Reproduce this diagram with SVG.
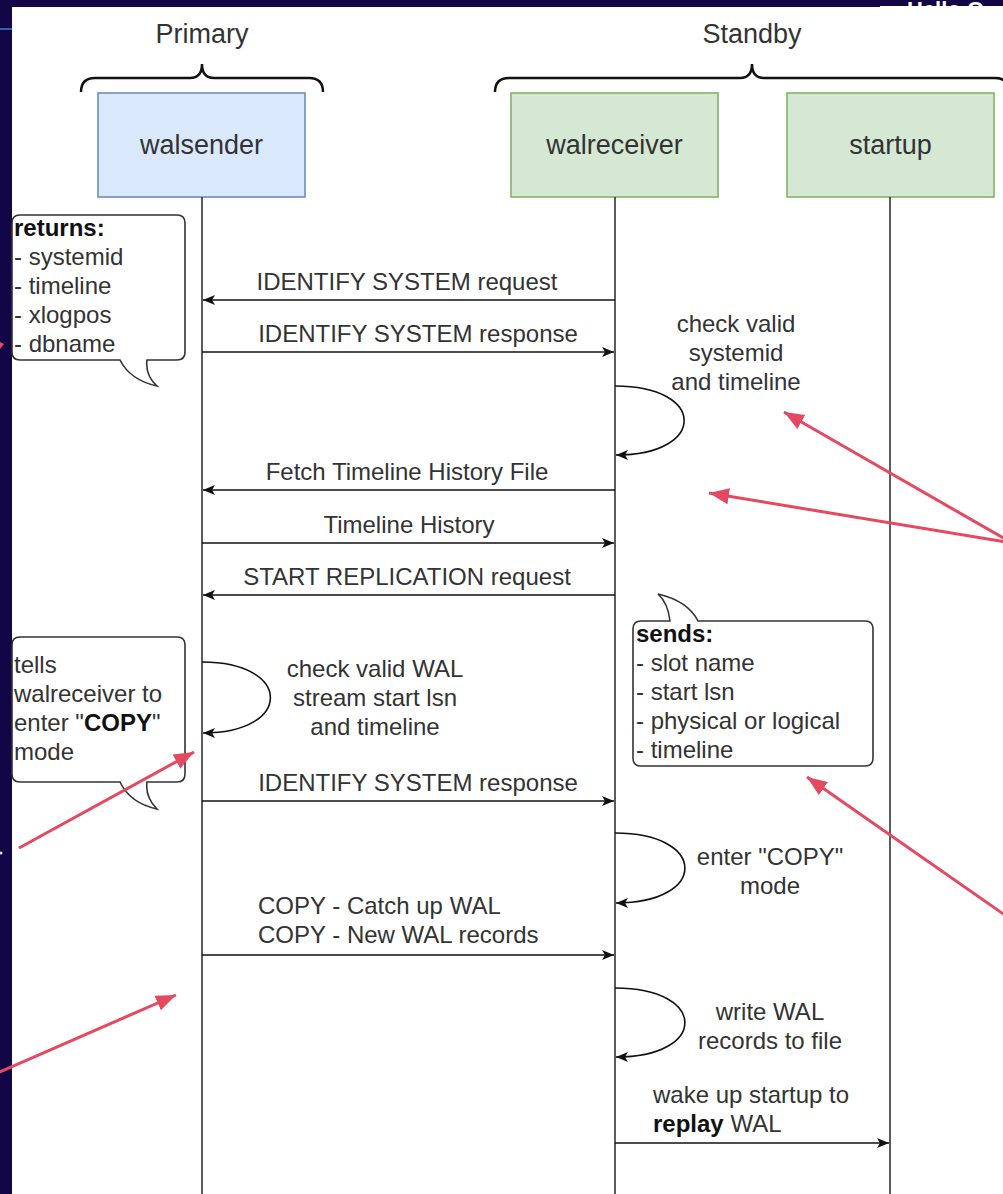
<svg xmlns="http://www.w3.org/2000/svg" width="1003" height="1194" viewBox="0 0 1003 1194">
<defs>
<style>
.t{font-family:"Liberation Sans",Arial,sans-serif;font-size:24px;fill:#333}
.h{font-family:"Liberation Sans",Arial,sans-serif;font-size:27px;fill:#333;text-anchor:middle}
.c{text-anchor:middle}
.b{font-weight:bold;fill:#111}
.life{stroke:#333;stroke-width:1.6;fill:none}
.msg{stroke:#111;stroke-width:1.6;fill:none;marker-end:url(#ah)}
.call{fill:#fff;stroke:#333;stroke-width:1.6}
.red{stroke:#e5485f;stroke-width:3;fill:none;marker-end:url(#rh)}
.brace{stroke:#111;stroke-width:2.5;fill:none}
</style>
<marker id="ah" markerUnits="userSpaceOnUse" markerWidth="14" markerHeight="12" refX="12" refY="6" orient="auto">
<path d="M0,1 L12,6 L0,11 L3,6 Z" fill="#111"/>
</marker>
<marker id="rh" markerUnits="userSpaceOnUse" markerWidth="22" markerHeight="18" refX="20" refY="9" orient="auto">
<path d="M0,1 L20,9 L0,17 Z" fill="#e5485f"/>
</marker>
</defs>
<rect x="0" y="0" width="1003" height="1194" fill="#120646"/>
<line x1="0" y1="29" x2="12" y2="29" stroke="#3a5fa8" stroke-width="2"/>
<rect x="12" y="7" width="991" height="1187" fill="#fff"/>
<text x="907" y="17" font-family="Liberation Sans,Arial,sans-serif" font-size="22" font-weight="bold" fill="#fff">Hello O</text>
<rect x="880" y="6" width="123" height="4" fill="#fff"/>
<circle cx="1" cy="853" r="1.5" fill="#ddd"/>
<polygon points="0,342 4,344 0,349" fill="#e5485f"/>

<g id="headers">
<text class="h" x="202" y="43">Primary</text>
<path class="brace" d="M81,92 Q81,78 95,78 H190 Q202,78 202,64 Q202,78 214,78 H309 Q323,78 323,92"/>
<text class="h" x="752" y="43">Standby</text>
<path class="brace" d="M495,92 Q495,78 509,78 H740 Q752,78 752,64 Q752,78 764,78 H995 Q1009,78 1009,92"/>
</g>

<g id="walsender">
<rect x="98" y="93" width="207" height="104" fill="#dae8fc" stroke="#6c8ebf" stroke-width="1.6"/>
<text class="h" x="201.5" y="154">walsender</text>
<line class="life" x1="202" y1="197" x2="202" y2="1194"/>
</g>
<g id="walreceiver">
<rect x="511" y="93" width="207" height="104" fill="#d5e8d4" stroke="#82b366" stroke-width="1.6"/>
<text class="h" x="614.5" y="154">walreceiver</text>
<line class="life" x1="615" y1="197" x2="615" y2="1194"/>
</g>
<g id="startup">
<rect x="787" y="93" width="207" height="104" fill="#d5e8d4" stroke="#82b366" stroke-width="1.6"/>
<text class="h" x="890.5" y="154">startup</text>
<line class="life" x1="890" y1="197" x2="890" y2="1194"/>
</g>

<g id="connectors">
<line class="msg" x1="615" y1="300" x2="203" y2="300"/>
<line class="msg" x1="202" y1="352" x2="614" y2="352"/>
<path class="msg" d="M615,386 C707,386 707,455 616,455"/>
<line class="msg" x1="615" y1="490" x2="203" y2="490"/>
<line class="msg" x1="202" y1="543" x2="614" y2="543"/>
<line class="msg" x1="615" y1="595" x2="203" y2="595"/>
<path class="msg" d="M202,662 C293,662 293,733 203,733"/>
<line class="msg" x1="202" y1="801" x2="614" y2="801"/>
<path class="msg" d="M615,833 C708,833 708,903 616,903"/>
<line class="msg" x1="202" y1="955" x2="614" y2="955"/>
<path class="msg" d="M615,988 C708,988 708,1057 616,1057"/>
<line class="msg" x1="615" y1="1143" x2="889" y2="1143"/>
</g>

<g id="labels">
<text class="t c" x="407" y="290">IDENTIFY SYSTEM request</text>
<text class="t c" x="418" y="342">IDENTIFY SYSTEM response</text>
<text class="t c" x="736" y="332">check valid</text>
<text class="t c" x="736" y="361">systemid</text>
<text class="t c" x="736" y="390">and timeline</text>
<text class="t c" x="407" y="480">Fetch Timeline History File</text>
<text class="t c" x="409" y="533">Timeline History</text>
<text class="t c" x="407" y="585">START REPLICATION request</text>
<text class="t c" x="375" y="677">check valid WAL</text>
<text class="t c" x="375" y="706">stream start lsn</text>
<text class="t c" x="375" y="735">and timeline</text>
<text class="t c" x="418" y="791">IDENTIFY SYSTEM response</text>
<text class="t c" x="770" y="865">enter "COPY"</text>
<text class="t c" x="770" y="894">mode</text>
<text class="t" x="258" y="914">COPY - Catch up WAL</text>
<text class="t" x="258" y="943">COPY - New WAL records</text>
<text class="t c" x="770" y="1020">write WAL</text>
<text class="t c" x="770" y="1049">records to file</text>
<text class="t" x="653" y="1103">wake up startup to</text>
<text class="t" x="653" y="1132"><tspan class="b">replay</tspan> WAL</text>
</g>

<g id="note-returns">
<path class="call" d="M20,215 H177 Q185,215 185,223 V352 Q185,360 177,360 H147 Q145,375 157,386 Q130,380 120,360 H20 Q12,360 12,352 V223 Q12,215 20,215 Z"/>
<text class="t b" x="14" y="236">returns:</text>
<text class="t" x="14" y="265">- systemid</text>
<text class="t" x="14" y="294">- timeline</text>
<text class="t" x="14" y="323">- xlogpos</text>
<text class="t" x="14" y="352">- dbname</text>
</g>

<g id="note-tells">
<path class="call" d="M20,637 H177 Q185,637 185,645 V774 Q185,782 177,782 H147 Q145,797 157,809 Q130,803 120,782 H20 Q12,782 12,774 V645 Q12,637 20,637 Z"/>
<text class="t" x="14" y="673">tells</text>
<text class="t" x="14" y="702">walreceiver to</text>
<text class="t" x="14" y="731">enter "<tspan class="b">COPY</tspan>"</text>
<text class="t" x="14" y="760">mode</text>
</g>

<g id="note-sends">
<path class="call" d="M641,621 H670 Q668,603 658,594 Q688,601 698,621 H865 Q873,621 873,629 V758 Q873,766 865,766 H641 Q633,766 633,758 V629 Q633,621 641,621 Z"/>
<text class="t b" x="636" y="642">sends:</text>
<text class="t" x="636" y="671">- slot name</text>
<text class="t" x="636" y="700">- start lsn</text>
<text class="t" x="636" y="729">- physical or logical</text>
<text class="t" x="636" y="758">- timeline</text>
</g>

<g id="red-arrows">
<line class="red" x1="19" y1="848" x2="194" y2="752"/>
<line class="red" x1="-5" y1="1074" x2="176" y2="995"/>
<line class="red" x1="1012" y1="543" x2="784" y2="412"/>
<line class="red" x1="1012" y1="543" x2="709" y2="493"/>
<line class="red" x1="1012" y1="920" x2="807" y2="777"/>
</g>
</svg>
